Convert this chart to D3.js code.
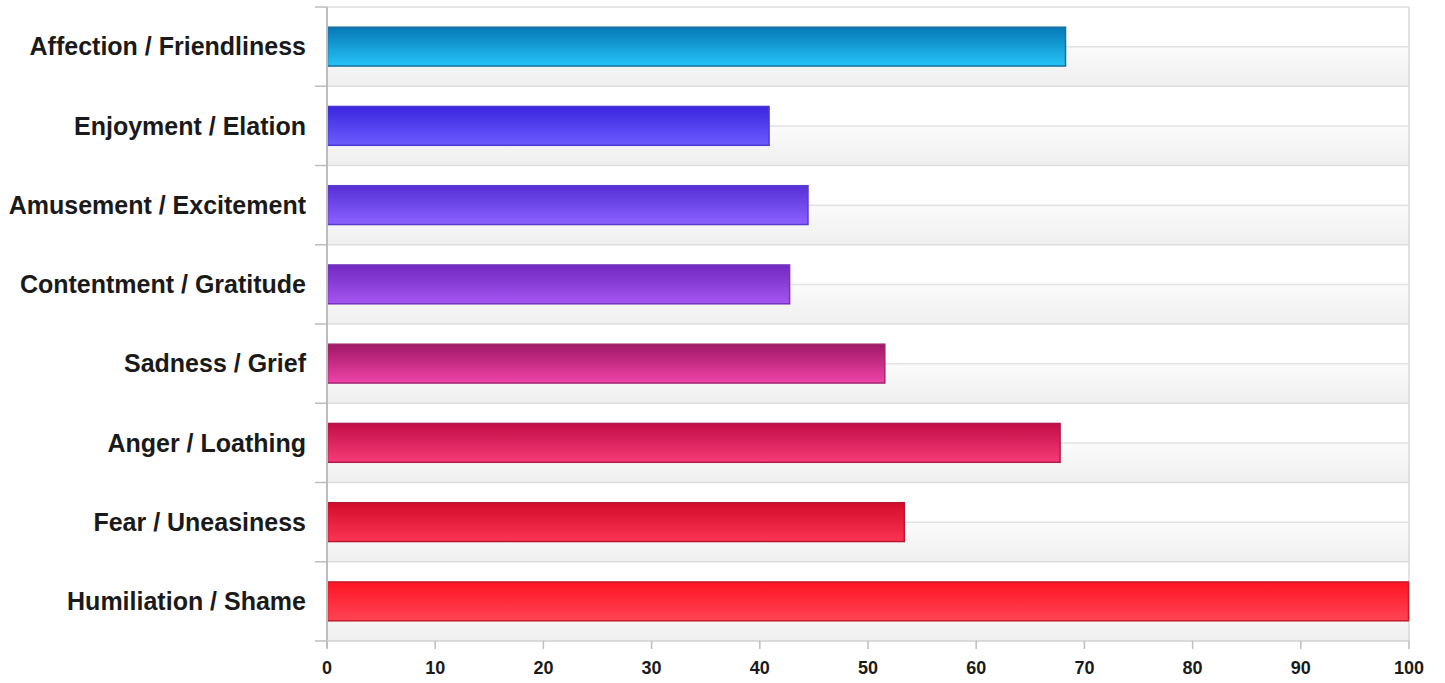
<!DOCTYPE html>
<html>
<head>
<meta charset="utf-8">
<script src="https://cdn.jsdelivr.net/npm/d3@7"></script>
<style>
  body { margin: 0; background: #fff; }
  text { font-family: "Liberation Sans", Arial, sans-serif; font-weight: bold; fill: #1a1a1a; }
</style>
</head>
<body>
<div id="chart"></div>
<script>
// categories top to bottom
const categories = [
  "Affection / Friendliness",
  "Enjoyment / Elation",
  "Amusement / Excitement",
  "Contentment / Gratitude",
  "Sadness / Grief",
  "Anger / Loathing",
  "Fear / Uneasiness",
  "Humiliation / Shame"
];
const values = [68.3, 40.9, 44.5, 42.8, 51.6, 67.8, 53.4, 100];
// gradient colours per bar: [top, bottom, border]
const barColors = [
  ["#0778b6", "#25c3f7", "#1b6f9e"],
  ["#3a26de", "#6d5cff", "#4a3ad0"],
  ["#5630d6", "#8b62ff", "#5a3ccc"],
  ["#7028c0", "#a656f2", "#7434bc"],
  ["#a01866", "#f044a8", "#a0286e"],
  ["#c20e48", "#f63c78", "#b01a4a"],
  ["#d40c2c", "#fc3454", "#b81630"],
  ["#ff1424", "#ff4454", "#c01c2a"]
];
const xTicks = [0, 10, 20, 30, 40, 50, 60, 70, 80, 90, 100];

const width = 1445, height = 683;
const margin = { top: 7, right: 36, bottom: 42, left: 327 };

const svg = d3.select("#chart").append("svg")
  .attr("width", width).attr("height", height);

const defs = svg.append("defs");

// band background: white upper half, soft grey lower half
const bg = defs.append("linearGradient").attr("id", "bandGrey")
  .attr("x1", 0).attr("y1", 0).attr("x2", 0).attr("y2", 1);
bg.append("stop").attr("offset", "0%").attr("stop-color", "#fbfbfb");
bg.append("stop").attr("offset", "100%").attr("stop-color", "#efefef");

barColors.forEach((c, i) => {
  const g = defs.append("linearGradient").attr("id", "bar" + i)
    .attr("x1", 0).attr("y1", 0).attr("x2", 0).attr("y2", 1);
  g.append("stop").attr("offset", "0%").attr("stop-color", c[0]);
  g.append("stop").attr("offset", "100%").attr("stop-color", c[1]);
});

const x = d3.scaleLinear().domain([0, 100])
  .range([margin.left, width - margin.right]);
const y = d3.scaleBand().domain(categories)
  .range([margin.top, height - margin.bottom])
  .paddingInner(0).paddingOuter(0);

const plot = svg.append("g");

// band backgrounds
const bands = plot.selectAll(".band").data(categories).join("g").attr("class", "band");
bands.append("rect")
  .attr("x", x(0)).attr("width", x(100) - x(0))
  .attr("y", d => y(d) + y.bandwidth() / 2)
  .attr("height", y.bandwidth() / 2)
  .attr("fill", "url(#bandGrey)");
bands.append("line")
  .attr("x1", x(0)).attr("x2", x(100))
  .attr("y1", d => y(d) + y.bandwidth() / 2)
  .attr("y2", d => y(d) + y.bandwidth() / 2)
  .attr("stroke", "#e2e2e2").attr("stroke-width", 1.5);
bands.append("line")
  .attr("x1", x(0)).attr("x2", x(100))
  .attr("y1", d => y(d)).attr("y2", d => y(d))
  .attr("stroke", "#dedede").attr("stroke-width", 1.5);

// right frame line
plot.append("line")
  .attr("x1", x(100)).attr("x2", x(100))
  .attr("y1", margin.top).attr("y2", height - margin.bottom)
  .attr("stroke", "#d8d8d8").attr("stroke-width", 1.5);

// bars
const barH = y.bandwidth() * 0.49;
plot.selectAll(".bar").data(values).join("rect")
  .attr("class", "bar")
  .attr("x", x(0) + 0.5)
  .attr("y", (d, i) => y(categories[i]) + y.bandwidth() / 2 - barH / 2)
  .attr("width", d => x(d) - x(0) - 1)
  .attr("height", barH)
  .attr("fill", (d, i) => "url(#bar" + i + ")")
  .attr("stroke", (d, i) => barColors[i][2])
  .attr("stroke-width", 1.5);

// y axis with ticks at band edges
const yAxis = svg.append("g");
yAxis.append("line")
  .attr("x1", x(0)).attr("x2", x(0))
  .attr("y1", margin.top).attr("y2", height - margin.bottom + 7)
  .attr("stroke", "#bdbdbd").attr("stroke-width", 2);
const edges = categories.map(c => y(c)).concat([y.range()[1]]);
yAxis.selectAll(".ytick").data(edges).join("line")
  .attr("x1", x(0) - 12).attr("x2", x(0))
  .attr("y1", d => d).attr("y2", d => d)
  .attr("stroke", "#bdbdbd").attr("stroke-width", 1.5);
yAxis.selectAll(".ylabel").data(categories).join("text")
  .attr("x", x(0) - 21)
  .attr("y", d => y(d) + y.bandwidth() / 2)
  .attr("dy", "0.35em")
  .attr("text-anchor", "end")
  .attr("font-size", 25)
  .text(d => d);

// x axis
const xAxis = svg.append("g");
xAxis.append("line")
  .attr("x1", x(0)).attr("x2", x(100))
  .attr("y1", y.range()[1]).attr("y2", y.range()[1])
  .attr("stroke", "#d0d0d0").attr("stroke-width", 1.5);
xAxis.selectAll(".xtick").data(xTicks).join("line")
  .attr("x1", d => x(d)).attr("x2", d => x(d))
  .attr("y1", y.range()[1]).attr("y2", y.range()[1] + 8)
  .attr("stroke", "#bdbdbd").attr("stroke-width", 1.5);
xAxis.selectAll(".xlabel").data(xTicks).join("text")
  .attr("x", d => x(d))
  .attr("y", y.range()[1] + 27)
  .attr("dy", "0.35em")
  .attr("text-anchor", "middle")
  .attr("font-size", 18)
  .text(d => d);
</script>
</body>
</html>
